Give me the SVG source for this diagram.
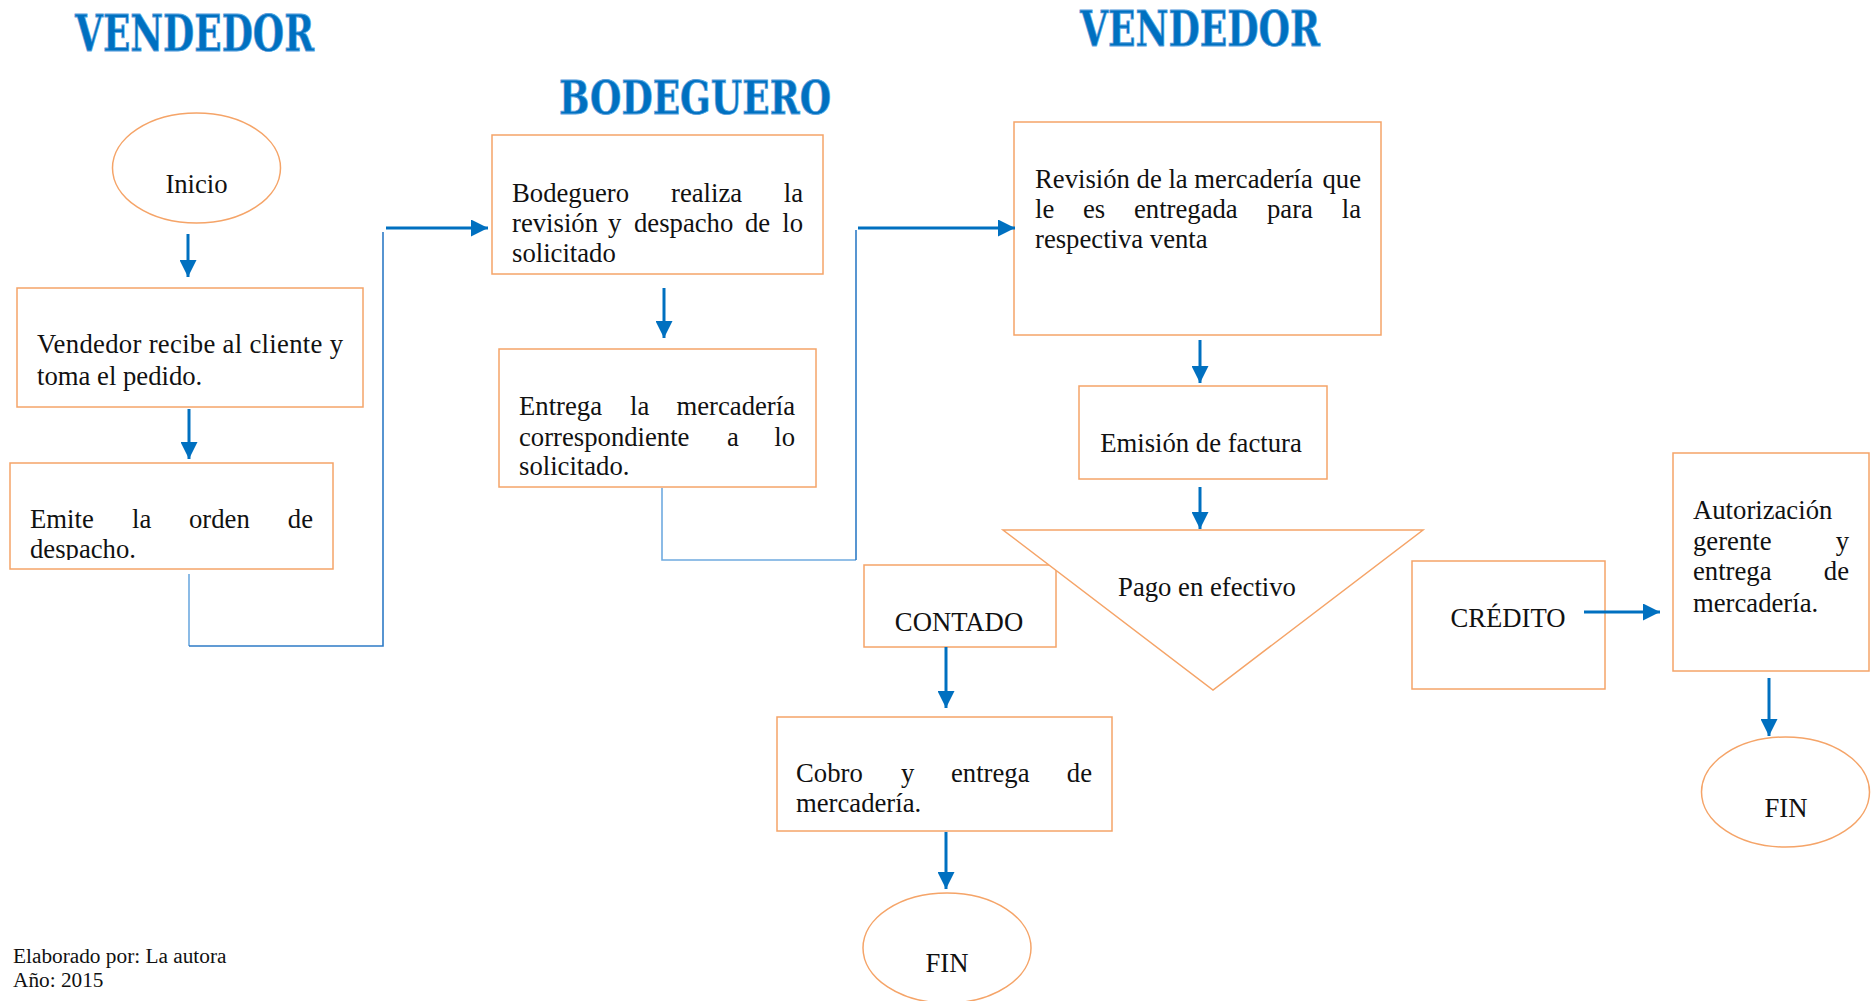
<svg xmlns="http://www.w3.org/2000/svg" width="1872" height="1001" viewBox="0 0 1872 1001">
<style>
.box{fill:#fff;stroke:#F5A468;stroke-width:1.5}
.t{font-family:"Liberation Serif","Times New Roman",serif;font-size:26.7px;fill:#111}
.ttl{font-family:"DejaVu Serif",serif;font-weight:bold;fill:#0070C0;stroke:#5AA2DE;stroke-width:0.8}
.arr{stroke:#0070C0;stroke-width:3;fill:none}
.con{stroke:#2E7BC6;stroke-width:1.6;fill:none}
.con2{stroke:#6FAAE0;stroke-width:1.6;fill:none}
.foot{font-family:"Liberation Serif","Times New Roman",serif;font-size:21.3px;fill:#111}
</style>
<defs>
<marker id="ah" markerUnits="userSpaceOnUse" markerWidth="17" markerHeight="17" refX="16" refY="8" orient="auto" viewBox="0 0 16 16">
<path d="M0,0 L16,8 L0,16 z" fill="#0070C0"/>
</marker>
<clipPath id="clipEmite"><rect x="10" y="463" width="323" height="97"/></clipPath>
</defs>
<rect width="1872" height="1001" fill="#fff"/>

<g id="titles">
<text class="ttl" x="75" y="51" font-size="50" textLength="239" lengthAdjust="spacingAndGlyphs">VENDEDOR</text>
<text class="ttl" x="559" y="114" font-size="47" textLength="272" lengthAdjust="spacingAndGlyphs">BODEGUERO</text>
<text class="ttl" x="1080" y="46" font-size="48" textLength="240" lengthAdjust="spacingAndGlyphs">VENDEDOR</text>
</g>

<g id="inicio">
<ellipse class="box" cx="196.5" cy="168" rx="84" ry="55"/>
<text class="t" x="196.5" y="193" text-anchor="middle">Inicio</text>
</g>

<g id="vendedor-recibe">
<rect class="box" x="17" y="288" width="346" height="119"/>
<text class="t" x="37" y="353" textLength="306" lengthAdjust="spacing">Vendedor recibe al cliente y</text>
<text class="t" x="37" y="385">toma el pedido.</text>
</g>

<g id="emite">
<rect class="box" x="10" y="463" width="323" height="106"/>
<g clip-path="url(#clipEmite)">
<text class="t" y="528"><tspan x="30">Emite</tspan><tspan x="132">la</tspan><tspan x="189">orden</tspan></text>
<text class="t" x="313" y="528" text-anchor="end">de</text>
<text class="t" x="30" y="558">despacho.</text>
</g>
</g>

<g id="bodeguero">
<rect class="box" x="492" y="135" width="331" height="139"/>
<text class="t" y="202"><tspan x="512">Bodeguero</tspan><tspan x="671">realiza</tspan></text>
<text class="t" x="803" y="202" text-anchor="end">la</text>
<text class="t" y="232"><tspan x="512">revisión</tspan><tspan x="608">y</tspan><tspan x="634">despacho</tspan><tspan x="745">de</tspan></text>
<text class="t" x="803" y="232" text-anchor="end">lo</text>
<text class="t" x="512" y="262">solicitado</text>
</g>

<g id="entrega">
<rect class="box" x="499" y="349" width="317" height="138"/>
<text class="t" y="415"><tspan x="519">Entrega</tspan><tspan x="630">la</tspan></text>
<text class="t" x="795" y="415" text-anchor="end">mercadería</text>
<text class="t" y="446"><tspan x="519">correspondiente</tspan><tspan x="727">a</tspan></text>
<text class="t" x="795" y="446" text-anchor="end">lo</text>
<text class="t" x="519" y="475">solicitado.</text>
</g>

<g id="revision">
<rect class="box" x="1014" y="122" width="367" height="213"/>
<text class="t" x="1035" y="188">Revisión de la mercadería</text>
<text class="t" x="1361" y="188" text-anchor="end">que</text>
<text class="t" y="218"><tspan x="1035">le</tspan><tspan x="1083">es</tspan><tspan x="1134">entregada</tspan><tspan x="1267">para</tspan></text>
<text class="t" x="1361" y="218" text-anchor="end">la</text>
<text class="t" x="1035" y="248">respectiva venta</text>
</g>

<g id="emision">
<rect class="box" x="1079" y="386" width="248" height="93"/>
<text class="t" x="1201" y="452" text-anchor="middle">Emisión de factura</text>
</g>

<g id="contado">
<rect class="box" x="864" y="565" width="192" height="82"/>
<text class="t" x="959" y="631" text-anchor="middle">CONTADO</text>
</g>

<g id="pago">
<polygon class="box" points="1003,530 1423,530 1213,690"/>
<text class="t" x="1207" y="596" text-anchor="middle">Pago en efectivo</text>
</g>

<g id="cobro">
<rect class="box" x="777" y="717" width="335" height="114"/>
<text class="t" y="782"><tspan x="796">Cobro</tspan><tspan x="901">y</tspan><tspan x="951">entrega</tspan></text>
<text class="t" x="1092" y="782" text-anchor="end">de</text>
<text class="t" x="796" y="812">mercadería.</text>
</g>

<g id="fin1">
<ellipse class="box" cx="947" cy="948" rx="84" ry="55"/>
<text class="t" x="947" y="972" text-anchor="middle">FIN</text>
</g>

<g id="credito">
<rect class="box" x="1412" y="561" width="193" height="128"/>
<text class="t" x="1508" y="627" text-anchor="middle">CRÉDITO</text>
</g>

<g id="autorizacion">
<rect class="box" x="1673" y="453" width="196" height="218"/>
<text class="t" x="1693" y="519">Autorización</text>
<text class="t" x="1693" y="550">gerente</text>
<text class="t" x="1849" y="550" text-anchor="end">y</text>
<text class="t" x="1693" y="580">entrega</text>
<text class="t" x="1849" y="580" text-anchor="end">de</text>
<text class="t" x="1693" y="612">mercadería.</text>
</g>

<g id="fin2">
<ellipse class="box" cx="1785.5" cy="792" rx="84" ry="55"/>
<text class="t" x="1786" y="817" text-anchor="middle">FIN</text>
</g>

<g id="connectors">
<line class="arr" x1="188" y1="234" x2="188" y2="277" marker-end="url(#ah)"/>
<line class="arr" x1="189" y1="409" x2="189" y2="459" marker-end="url(#ah)"/>
<polyline class="con2" points="189,574 189,646"/>
<polyline class="con" points="189,646 383,646 383,232"/>
<line class="arr" x1="386" y1="228" x2="488" y2="228" marker-end="url(#ah)"/>
<line class="arr" x1="664" y1="288" x2="664" y2="338" marker-end="url(#ah)"/>
<polyline class="con2" points="662,488 662,560 856,560"/>
<polyline class="con" points="856,560 856,230"/>
<line class="arr" x1="858" y1="228" x2="1015" y2="228" marker-end="url(#ah)"/>
<line class="arr" x1="1200" y1="340" x2="1200" y2="383" marker-end="url(#ah)"/>
<line class="arr" x1="1200" y1="487" x2="1200" y2="529" marker-end="url(#ah)"/>
<line class="arr" x1="946" y1="647" x2="946" y2="708" marker-end="url(#ah)"/>
<line class="arr" x1="946" y1="832" x2="946" y2="889" marker-end="url(#ah)"/>
<line class="arr" x1="1584" y1="612" x2="1660" y2="612" marker-end="url(#ah)"/>
<line class="arr" x1="1769" y1="678" x2="1769" y2="736" marker-end="url(#ah)"/>
</g>

<g id="footer">
<text class="foot" x="13" y="963">Elaborado por: La autora</text>
<text class="foot" x="13" y="987">Año: 2015</text>
</g>
</svg>
